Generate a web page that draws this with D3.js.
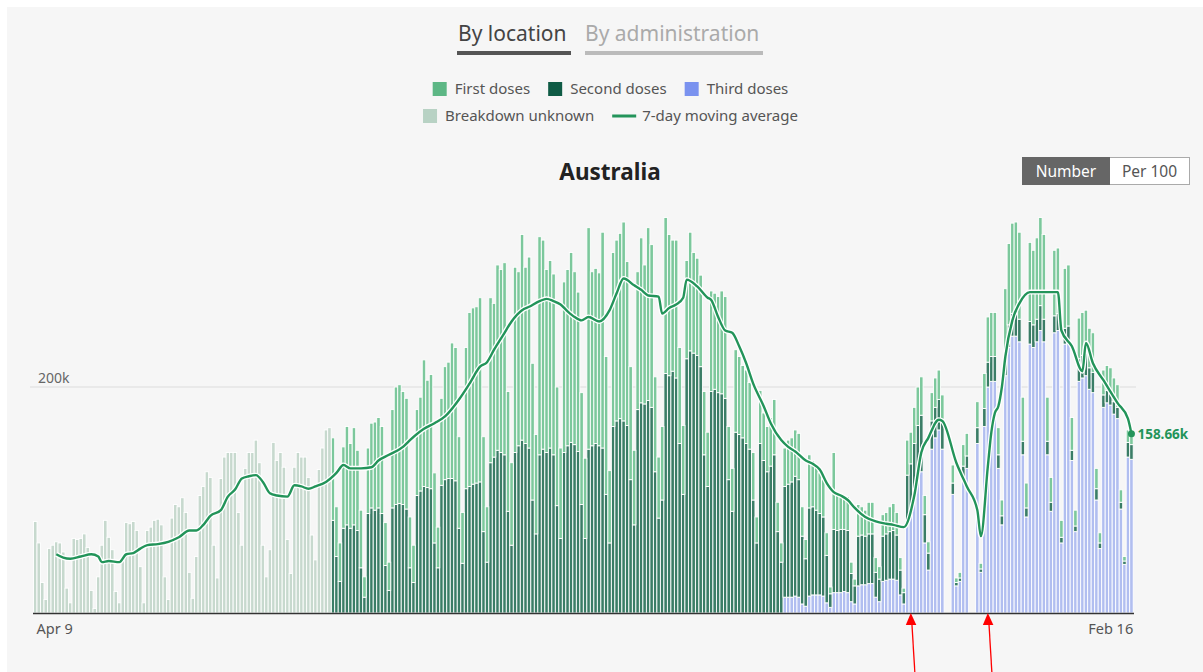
<!DOCTYPE html>
<html>
<head>
<meta charset="utf-8">
<script src="https://cdn.jsdelivr.net/npm/d3@7"></script>
<style>
  body { margin: 0; background: #fff; }
  svg { display: block; font-family: 'Noto Sans', 'Open Sans', sans-serif; }
</style>
</head>
<body>
<div id="chart"></div>
<script>
var width = 1203, height = 672;

// daily doses, thousands
var startDate = '2021-04-09',   // breakdown unknown from here
    splitDate = '2021-07-03',   // first / second split from here
    thirdDate = '2021-11-09';   // third doses from here

var unknown = [
  81, 62, 27, 12,
  57, 60, 63, 62, 54, 22, 9,
  66, 65, 66, 70, 58, 20, 4,
  32, 60, 82, 67, 56, 19, 9,
  47, 80, 79, 81, 73, 41, 9,
  73, 76, 82, 83, 78, 32, 12,
  84, 96, 94, 102, 89, 36, 13,
  50, 104, 112, 125, 120, 60, 31,
  119, 138, 142, 142, 142, 89, 60,
  128, 142, 142, 153, 133, 60, 32,
  56, 151, 135, 142, 129, 65, 35,
  129, 142, 138, 138, 120, 69, 47,
  127, 146, 162, 164
];

var first = [
  73, 44, 34,
  72, 87, 75, 86, 71, 51, 18,
  58, 75, 78, 80, 77, 38, 25,
  87, 104, 105, 100, 98, 45, 33,
  76, 83, 112, 95, 101, 62, 36,
  77, 100, 103, 120, 118, 81, 45,
  125, 154, 156, 156, 163, 84, 49,
  146, 136, 164, 162, 170, 106, 73,
  164, 154, 182, 156, 169, 121, 88,
  193, 185, 162, 166, 160, 105, 80,
  151, 156, 168, 153, 141, 99, 71,
  196, 154, 155, 153, 191, 122, 64,
  154, 160, 164, 176, 145, 100, 66,
  122, 146, 123, 153, 144, 84, 54,
  65, 138, 125, 116, 122, 85, 61,
  87, 105, 89, 86, 81, 56, 48,
  89, 85, 85, 91, 90, 47, 38,
  73, 69, 64, 65, 59, 42, 23,
  47, 42, 40, 43, 49, 26, 17,
  34, 39, 39, 41, 41, 26, 17,
  47, 41, 38, 36, 33, 20, 6,
  68, 31, 32, 30, 30, 10, 6,
  28, 25, 23, 28, 28, 13, 11,
  19, 19, 22, 24, 20, 11, 4,
  31, 28, 32, 34, 34, 17, 10,
  25, 26, 26, 24, null, null, 16,
  4, 5, 19, 20, null, null, 23,
  5, 31, 40, 39, 39, 24, 14,
  60, 72, 80, 80, 77, 39, 22,
  70, 66, 72, 78, 75, 39, 22,
  58, 58, 15, 53, 54, 29, 14,
  36, 38, 38, 35, 35, 18, 9,
  22, 22, 22, 21, 20, 11, 4,
  11, 11
];

var second = [
  82, 50, 28,
  75, 78, 75, 78, 73, 40, 14,
  88, 93, 91, 93, 88, 42, 20,
  93, 96, 97, 96, 92, 40, 27,
  104, 108, 112, 111, 110, 62, 40,
  113, 118, 119, 119, 117, 75, 44,
  110, 112, 114, 115, 116, 72, 45,
  133, 138, 144, 142, 140, 90, 60,
  142, 148, 153, 150, 146, 100, 70,
  140, 145, 142, 146, 140, 95, 66,
  142, 148, 151, 149, 143, 96, 66,
  145, 148, 150, 148, 146, 105, 62,
  165, 170, 172, 170, 166, 118, 78,
  180, 186, 185, 188, 182, 125, 84,
  100, 212, 210, 214, 208, 150, 105,
  225, 232, 230, 228, 218, 140, 112,
  196, 198, 195, 194, 190, 118, 90,
  160, 158, 155, 150, 145, 100, 62,
  150, 135, 125, 130, 140, 72, 45,
  98, 100, 102, 106, 104, 60, 42,
  78, 78, 75, 72, 70, 42, 12,
  56, 55, 56, 55, 55, 25, 16,
  44, 44, 43, 44, 44, 22, 20,
  40, 41, 42, 43, 40, 22, 10,
  42, 42, 45, 48, 50, 25, 15,
  25, 27, 27, 24, null, null, 10,
  3, 3, 10, 11, null, null, 14,
  3, 16, 22, 22, 22, 12, 8,
  17, 20, 20, 21, 20, 12, 8,
  20, 20, 20, 22, 20, 12, 8,
  15, 15, 5, 14, 14, 9, 5,
  20, 20, 20, 19, 18, 10, 5,
  11, 11, 11, 11, 10, 6, 3,
  13, 13
];

var third = [
  14, 14, 14, 15, 14, 8, 6,
  15, 16, 16, 16, 15, 9, 5,
  18, 18, 18, 19, 18, 10, 8,
  24, 25, 25, 26, 26, 14, 10,
  28, 29, 30, 30, 29, 16, 8,
  80, 90, 105, 118, 125, 62, 38,
  145, 155, 162, 145, null, null, 105,
  24, 28, 120, 128, null, null, 150,
  36, 165, 200, 205, 205, 128, 78,
  210, 235, 245, 245, 240, 140, 85,
  238, 235, 240, 250, 240, 140, 90,
  248, 250, 62, 238, 240, 135, 72,
  205, 208, 210, 198, 195, 100, 57,
  182, 186, 184, 176, 172, 92, 43,
  138, 136
];

// 7-day moving average as drawn: [days after Apr 9, thousands]
var movingAvg = [
  [6, 52], [8, 49], [10, 48], [13, 50], [16, 52], [18, 50], [19, 45], [21, 46], [24, 45], [26, 52],
  [28, 53], [30, 57], [32, 60], [35, 61], [38, 63], [41, 67], [44, 73], [46, 73], [48, 78], [50, 86],
  [53, 91], [55, 103], [57, 109], [59, 119], [61, 121], [63, 122], [65, 116], [67, 106], [69, 104], [72, 103],
  [74, 113], [76, 112], [78, 110], [80, 112], [83, 116], [86, 124], [88, 131], [90, 128], [93, 128], [96, 129],
  [98, 135], [101, 140], [105, 147], [107, 153], [111, 163], [114, 168], [117, 174], [121, 189], [124, 203], [127, 218],
  [129, 222], [131, 233], [134, 248], [136, 258], [139, 268], [141, 271], [144, 276], [146, 278], [148, 276], [150, 273],
  [152, 267], [154, 262], [156, 259], [158, 262], [161, 258], [164, 268], [166, 283], [168, 296], [171, 290], [173, 286],
  [175, 281], [178, 280], [179, 265], [181, 270], [183, 273], [185, 279], [186, 295], [189, 289], [192, 279], [193, 277],
  [195, 262], [197, 250], [199, 248], [201, 236], [203, 221], [205, 203], [208, 183], [210, 168], [213, 153], [215, 147],
  [217, 143], [220, 135], [222, 132], [224, 127], [226, 115], [228, 107], [230, 104], [232, 100], [234, 93], [237, 85],
  [240, 81], [243, 79], [245, 78], [248, 76], [251, 104], [253, 142], [255, 155], [258, 171], [259, 170], [263, 133],
  [266, 112], [269, 91], [270, 68], [272, 130], [273, 160], [274, 177], [275, 183], [276, 200], [277, 227], [279, 259],
  [281, 274], [284, 284], [286, 284], [292, 284], [293, 250], [296, 236], [299, 214], [300, 239], [302, 221], [305, 206],
  [309, 186], [312, 172], [313, 158.66]
];

var gridValues = [200];
var arrowDates = ['2021-12-15', '2022-01-06'];

var legendRows = [
  [{label: 'First doses', key: 'first'}, {label: 'Second doses', key: 'second'}, {label: 'Third doses', key: 'third'}],
  [{label: 'Breakdown unknown', key: 'unknown'}, {label: '7-day moving average', key: 'avg'}]
];

var swatch = {first: '#5db785', second: '#0f5b45', third: '#7a92ef', unknown: '#b8d2c4', avg: '#23945a'};
var barColor = {first: '#7cc89c', second: '#3a7d66', third: '#b1bef0', unknown: '#c7d9ce'};

// ---------- rows ----------
var parse = d3.timeParse('%Y-%m-%d');
var t0 = parse(startDate);
var splitAt = d3.timeDay.count(t0, parse(splitDate));
var thirdAt = d3.timeDay.count(t0, parse(thirdDate));
var nDays = splitAt + first.length;

var rows = d3.range(nDays).map(function(i){
  var r = {i: i, date: d3.timeDay.offset(t0, i), unknown: 0, first: 0, second: 0, third: 0, missing: false};
  if(i < unknown.length) r.unknown = unknown[i];
  if(i >= splitAt){
    var f = first[i - splitAt];
    if(f === null) r.missing = true;
    r.first = f || 0;
    r.second = second[i - splitAt] || 0;
  }
  if(i >= thirdAt) r.third = third[i - thirdAt] || 0;
  return r;
});

var keys = ['third', 'second', 'first', 'unknown'];
var stacked = d3.stack().keys(keys)(rows);

// ---------- svg ----------
var svg = d3.select('#chart').append('svg')
  .attr('width', width).attr('height', height);

svg.append('rect')
  .attr('x', 7).attr('y', 7).attr('width', width - 7).attr('height', height - 7)
  .attr('fill', '#f6f6f6');

// tabs
var tabs = svg.append('g');
tabs.append('text').attr('x', 458).attr('y', 41)
  .attr('font-size', 21).attr('fill', '#444').text('By location');
tabs.append('rect').attr('x', 457).attr('y', 51).attr('width', 114).attr('height', 4).attr('fill', '#555');
tabs.append('text').attr('x', 585).attr('y', 41)
  .attr('font-size', 21).attr('fill', '#aaa').text('By administration');
tabs.append('rect').attr('x', 585).attr('y', 51).attr('width', 178).attr('height', 4).attr('fill', '#bbb');

// legend, rows centred on the chart
var legendY = [89, 116];
legendRows.forEach(function(items, r){
  var g = svg.append('g');
  var x = 0;
  items.forEach(function(it){
    var item = g.append('g').attr('transform', 'translate(' + x + ',0)');
    var sw = it.key === 'avg' ? 24 : 14;
    if(it.key === 'avg'){
      item.append('line').attr('x1', 0).attr('x2', sw).attr('y1', 0).attr('y2', 0)
        .attr('stroke', swatch.avg).attr('stroke-width', 3);
    } else {
      item.append('rect').attr('x', 0).attr('y', -7).attr('width', sw).attr('height', 14)
        .attr('fill', swatch[it.key]);
    }
    var gap = it.key === 'avg' ? 6 : 8;
    var t = item.append('text').attr('x', sw + gap).attr('y', 5)
      .attr('font-size', 15).attr('fill', '#555').text(it.label);
    x += sw + gap + t.node().getComputedTextLength() + 18;
  });
  var w = x - 18;
  g.attr('transform', 'translate(' + (610.5 - w / 2) + ',' + legendY[r] + ')');
});

// title
svg.append('text').attr('x', 610).attr('y', 180).attr('text-anchor', 'middle')
  .attr('font-size', 22.5).attr('font-weight', 700).attr('fill', '#222').text('Australia');

// number / per 100 toggle
var tog = svg.append('g');
tog.append('rect').attr('x', 1022.5).attr('y', 157.5).attr('width', 167).attr('height', 27)
  .attr('fill', '#fff').attr('stroke', '#aaa');
tog.append('rect').attr('x', 1022.5).attr('y', 157.5).attr('width', 87).attr('height', 27)
  .attr('fill', '#666').attr('stroke', '#666');
tog.append('text').attr('x', 1066).attr('y', 176.5).attr('text-anchor', 'middle')
  .attr('font-size', 15.5).attr('fill', '#fff').text('Number');
tog.append('text').attr('x', 1149.5).attr('y', 176.5).attr('text-anchor', 'middle')
  .attr('font-size', 15.5).attr('fill', '#555').text('Per 100');

// ---------- scales ----------
var x = d3.scaleBand()
  .domain(rows.map(function(d){ return +d.date; }))
  .range([33.5, 1133.2]);

var y = d3.scaleLinear().domain([0, 200]).range([613, 387]);

// grid
var grid = svg.append('g');
grid.selectAll('line').data(gridValues).enter().append('line')
  .attr('x1', 30).attr('x2', 1136)
  .attr('y1', function(d){ return y(d); }).attr('y2', function(d){ return y(d); })
  .attr('stroke', '#dcdcdc');
grid.selectAll('text').data(gridValues).enter().append('text')
  .attr('x', 38).attr('y', function(d){ return y(d) - 4; })
  .attr('font-size', 14).attr('fill', '#666')
  .text(function(d){ return d + 'k'; });

// bars
var bars = svg.append('g');
stacked.forEach(function(layer){
  bars.append('g').attr('fill', barColor[layer.key])
    .selectAll('rect')
    .data(layer.filter(function(d){ return !d.data.missing && d[1] > d[0]; }))
    .enter().append('rect')
    .attr('x', function(d){ return x(+d.data.date); })
    .attr('width', x.bandwidth())
    .attr('y', function(d){ return y(d[1]); })
    .attr('height', function(d){ return y(d[0]) - y(d[1]); })
    .attr('stroke', '#fff').attr('stroke-width', 0.9);
});

// baseline
svg.append('line').attr('x1', 33).attr('x2', 1134).attr('y1', 613.5).attr('y2', 613.5)
  .attr('stroke', '#333').attr('stroke-width', 1.5);

// x labels: first and last day
var fmt = d3.timeFormat('%b %-d');
var ends = [rows[0], rows[rows.length - 1]];
svg.selectAll('.xlab').data(ends).enter().append('text')
  .attr('x', function(d, i){ return i === 0 ? x(+d.date) + 3 : x(+d.date) + x.bandwidth(); })
  .attr('y', 634)
  .attr('text-anchor', function(d, i){ return i === 0 ? 'start' : 'end'; })
  .attr('font-size', 14.5).attr('fill', '#555')
  .text(function(d){ return fmt(d.date); });

// moving average
var avgX = function(d){ return x(+d3.timeDay.offset(t0, d[0])) + x.bandwidth() / 2; };
var line = d3.line().x(avgX).y(function(d){ return y(d[1]); }).curve(d3.curveMonotoneX);

svg.append('path').datum(movingAvg).attr('d', line)
  .attr('fill', 'none').attr('stroke', '#fff').attr('stroke-width', 5).attr('stroke-linejoin', 'round');
svg.append('path').datum(movingAvg).attr('d', line)
  .attr('fill', 'none').attr('stroke', swatch.avg).attr('stroke-width', 2.4).attr('stroke-linejoin', 'round');

var last = movingAvg[movingAvg.length - 1];
svg.append('circle').attr('cx', avgX(last)).attr('cy', y(last[1])).attr('r', 3.5)
  .attr('fill', swatch.avg);
svg.append('text').attr('x', avgX(last) + 6).attr('y', y(last[1]) + 5)
  .attr('font-size', 13.5).attr('font-weight', 700).attr('fill', swatch.avg)
  .text(d3.format('.2f')(last[1]) + 'k');

// red annotation arrows
var arrows = svg.append('g');
arrowDates.forEach(function(s){
  var ax = x(+parse(s)) + x.bandwidth() / 2;
  arrows.append('line').attr('x1', ax + 1).attr('y1', 622).attr('x2', ax + 4).attr('y2', 672)
    .attr('stroke', '#ff0000').attr('stroke-width', 1.3);
  arrows.append('path')
    .attr('d', 'M' + ax + ',613 L' + (ax - 5) + ',625 L' + (ax + 5.5) + ',625 Z')
    .attr('fill', '#ff0000');
});
</script>
</body>
</html>
